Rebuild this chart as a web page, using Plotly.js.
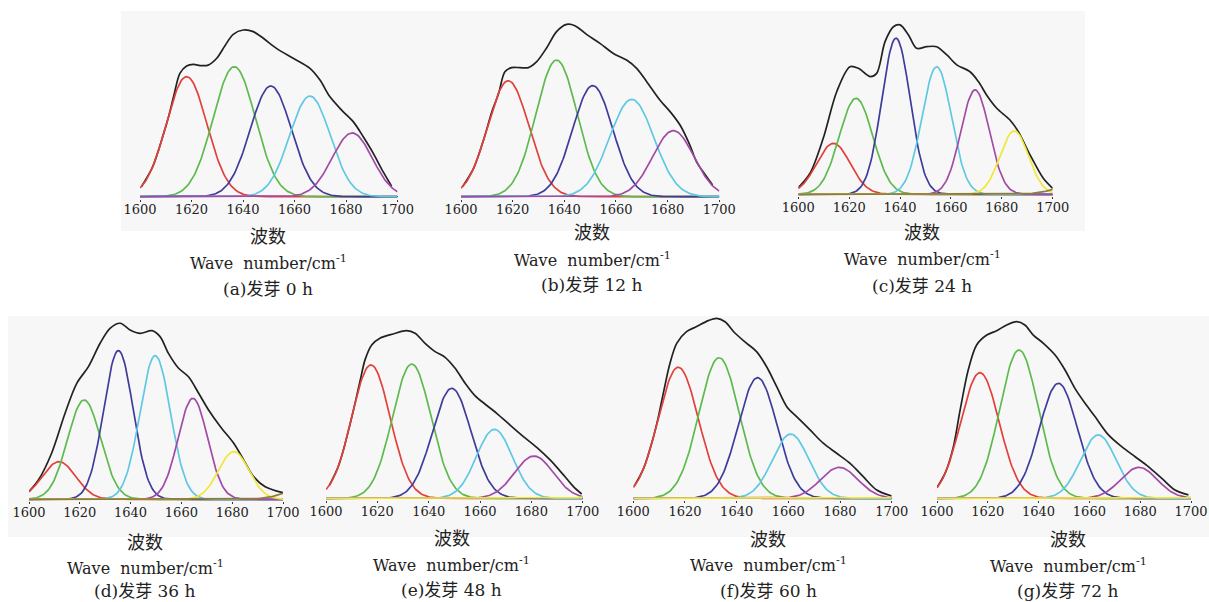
<!DOCTYPE html>
<html>
<head>
<meta charset="utf-8">
<script src="https://cdn.plot.ly/plotly-3.0.1.min.js"></script>
<style>html,body{margin:0;padding:0;background:#fff;}#chart{width:1209px;height:602px;}</style>
</head>
<body>
<div id="chart"></div>
<script>
// ---------- DATA ----------
// Wave number axis
const tickValues = [1600, 1620, 1640, 1660, 1680, 1700];
const tickLabels = ['1600', '1620', '1640', '1660', '1680', '1700'];
const xTitleCn = '波数';
const xTitleEn = 'Wave  number/cm<sup>-1</sup>';
const panelTitles = ['(a)发芽 0 h', '(b)发芽 12 h', '(c)发芽 24 h', '(d)发芽 36 h', '(e)发芽 48 h', '(f)发芽 60 h', '(g)发芽 72 h'];

// Fitted sub-peaks: centre (cm-1), height (relative intensity), width (sigma, cm-1)
const centersA = [1618.1, 1636.6, 1650.8, 1666.0, 1682.4];
const heightsA = [0.667, 0.722, 0.615, 0.559, 0.354];
const widthsA  = [7.9, 8.2, 8.0, 7.9, 7.8];
const colorsA  = ['red', 'green', 'blue', 'cyan', 'magenta'];

const centersB = [1618.3, 1637.0, 1651.0, 1666.1, 1682.2];
const heightsB = [0.644, 0.759, 0.617, 0.541, 0.367];
const widthsB  = [8.0, 8.0, 7.8, 8.6, 8.0];
const colorsB  = ['red', 'green', 'blue', 'cyan', 'magenta'];

const centersC = [1613.8, 1622.7, 1638.4, 1654.4, 1669.5, 1684.9, 1710];
const heightsC = [0.283, 0.533, 0.867, 0.709, 0.580, 0.352, 0.06];
const widthsC  = [6.6, 6.6, 5.6, 5.8, 5.6, 5.6, 8];
const colorsC  = ['red', 'green', 'blue', 'cyan', 'magenta', 'yellow', 'olive'];

const centersD = [1611.8, 1621.7, 1635.2, 1649.7, 1664.5, 1680.6, 1712];
const heightsD = [0.209, 0.552, 0.826, 0.798, 0.561, 0.265, 0.08];
const widthsD  = [6.6, 6.5, 5.8, 6.0, 5.8, 6.0, 9];
const colorsD  = ['red', 'green', 'blue', 'cyan', 'magenta', 'yellow', 'olive'];

const centersE = [1617.5, 1633.4, 1649.0, 1665.6, 1681.0, 1712];
const heightsE = [0.741, 0.746, 0.611, 0.383, 0.235, 0.03];
const widthsE  = [7.5, 7.5, 7.5, 7.0, 7.5, 7];
const colorsE  = ['red', 'green', 'blue', 'cyan', 'magenta', 'yellow'];

const centersF = [1617.4, 1633.2, 1648.1, 1660.9, 1679.7, 1712];
const heightsF = [0.728, 0.781, 0.670, 0.357, 0.172, 0.02];
const widthsF  = [7.8, 7.8, 7.5, 7.0, 7.2, 7];
const colorsF  = ['red', 'green', 'blue', 'cyan', 'magenta', 'yellow'];

const centersG = [1616.9, 1632.3, 1647.8, 1663.5, 1679.5, 1712];
const heightsG = [0.698, 0.824, 0.639, 0.352, 0.172, 0.02];
const widthsG  = [7.6, 7.6, 7.5, 7.0, 7.2, 7];
const colorsG  = ['red', 'green', 'blue', 'cyan', 'magenta', 'yellow'];

// Measured (envelope) spectra
const envXA = [1600.6,1605.0,1609.0,1611.2,1613.2,1615.5,1618.1,1620.7,1623.9,1626.5,1629.8,1633.0,1636.2,1640.1,1644.0,1647.9,1653.0,1659.5,1666.0,1669.9,1673.7,1678.3,1682.8,1686.7,1690.6,1694.4,1697.7];
const envYA = [0.057,0.169,0.343,0.450,0.565,0.685,0.726,0.735,0.728,0.731,0.769,0.839,0.902,0.926,0.917,0.880,0.824,0.769,0.713,0.648,0.556,0.481,0.417,0.333,0.241,0.139,0.059];

const envXB = [1600.6,1605.0,1609.0,1612.0,1614.5,1617.0,1619.6,1622.8,1626.1,1629.3,1633.2,1637.0,1640.9,1644.1,1648.6,1653.8,1659.0,1664.1,1668.0,1671.9,1677.0,1681.5,1684.8,1688.6,1691.2,1695.1,1697.4];
const envYB = [0.056,0.162,0.328,0.475,0.570,0.694,0.717,0.717,0.717,0.750,0.828,0.917,0.957,0.950,0.902,0.852,0.796,0.759,0.713,0.639,0.537,0.463,0.398,0.287,0.194,0.111,0.065];

const envXC = [1600.0,1604.6,1609.8,1615.1,1620.3,1623.6,1628.2,1630.8,1634.1,1637.4,1640.0,1643.3,1646.5,1650.5,1654.4,1658.4,1662.3,1667.5,1670.8,1674.0,1678.0,1683.2,1686.5,1691.1,1696.3,1700.0];
const envYC = [0.037,0.117,0.311,0.570,0.709,0.700,0.654,0.672,0.848,0.931,0.941,0.885,0.811,0.820,0.820,0.774,0.719,0.681,0.626,0.552,0.478,0.413,0.348,0.219,0.089,0.033];

const envXD = [1600.0,1603.7,1608.9,1614.2,1618.8,1623.4,1628.0,1631.9,1635.9,1639.8,1643.8,1648.4,1651.6,1654.9,1658.9,1662.8,1666.8,1670.7,1675.3,1680.6,1684.5,1688.4,1693.0,1700.0];
const envYD = [0.043,0.107,0.256,0.478,0.644,0.737,0.867,0.950,0.978,0.941,0.922,0.937,0.904,0.811,0.728,0.681,0.589,0.496,0.404,0.311,0.219,0.126,0.070,0.037];

const envXE = [1601.3,1605.0,1609.0,1611.5,1613.4,1615.2,1617.8,1621.0,1626.2,1631.4,1634.7,1638.6,1642.5,1646.4,1650.3,1654.2,1658.1,1661.9,1666.5,1671.7,1676.9,1682.1,1687.3,1692.5,1696.4,1699.6];
const envYE = [0.072,0.185,0.390,0.540,0.660,0.769,0.852,0.889,0.913,0.931,0.917,0.861,0.815,0.783,0.722,0.639,0.569,0.524,0.472,0.407,0.343,0.283,0.213,0.130,0.065,0.024];

const envXF = [1600.3,1604.0,1607.5,1609.5,1611.2,1614.2,1616.8,1620.6,1624.5,1629.0,1632.3,1635.5,1639.4,1643.9,1647.7,1651.6,1655.5,1659.4,1663.2,1668.4,1673.5,1678.7,1683.9,1689.0,1694.2,1700.0];
const envYF = [0.066,0.166,0.325,0.440,0.555,0.750,0.861,0.926,0.954,0.987,1.000,0.981,0.917,0.861,0.815,0.731,0.620,0.509,0.454,0.380,0.306,0.250,0.194,0.120,0.046,0.013];

const envXG = [1600.0,1603.5,1606.5,1609.1,1612.3,1615.6,1619.6,1623.5,1627.4,1631.4,1634.6,1637.9,1641.9,1646.5,1650.4,1654.3,1658.3,1662.2,1667.5,1672.7,1678.0,1683.2,1688.5,1693.7,1699.0];
const envYG = [0.059,0.150,0.290,0.490,0.713,0.852,0.907,0.931,0.963,0.981,0.963,0.907,0.861,0.796,0.713,0.611,0.528,0.454,0.352,0.287,0.231,0.176,0.111,0.046,0.019];

// ---------- STYLE / LAYOUT ----------
const COLORS = {red:'#e2403a', green:'#5cbb4c', blue:'#3f3c9c', cyan:'#5fc8e2', magenta:'#a24aa6', yellow:'#f2e63a', olive:'#8c7d3c'};
const W = 1209, H = 602, UNIT = 180; // px per unit of intensity
const panels = [
  {c:centersA, h:heightsA, w:widthsA, col:colorsA, ex:envXA, ey:envYA, x0:140,   x1:397.5,  base:196.7, tx:268,  ty:[237,262,289]},
  {c:centersB, h:heightsB, w:widthsB, col:colorsB, ex:envXB, ey:envYB, x0:461,   x1:719.3,  base:196.7, tx:592,  ty:[233,259,285]},
  {c:centersC, h:heightsC, w:widthsC, col:colorsC, ex:envXC, ey:envYC, x0:798.3, x1:1052.7, base:194.3, tx:922,  ty:[232,258,286]},
  {c:centersD, h:heightsD, w:widthsD, col:colorsD, ex:envXD, ey:envYD, x0:29,    x1:283,    base:499.3, tx:145,  ty:[542,567,591]},
  {c:centersE, h:heightsE, w:widthsE, col:colorsE, ex:envXE, ey:envYE, x0:326,   x1:582.7,  base:498.3, tx:452,  ty:[538,564,590]},
  {c:centersF, h:heightsF, w:widthsF, col:colorsF, ex:envXF, ey:envYF, x0:633.3, x1:891.7,  base:498.3, tx:768,  ty:[539,564,591]},
  {c:centersG, h:heightsG, w:widthsG, col:colorsG, ex:envXG, ey:envYG, x0:937,   x1:1191,   base:498.3, tx:1068, ty:[539,565,591]}
];
const Y_MIN = -0.01, Y_MAX = 1.05;
const serif = 'DejaVu Serif, Noto Sans CJK SC, serif';
const textSizes = [18, 16, 17];

const grid = [];
for (let x = 1600; x <= 1700.001; x += 0.5) grid.push(x);

const traces = [];
const layout = {
  width: W, height: H,
  margin: {l:0, r:0, t:0, b:0},
  paper_bgcolor: '#ffffff',
  plot_bgcolor: 'rgba(0,0,0,0)',
  showlegend: false,
  font: {family: serif},
  shapes: [
    {type:'rect', xref:'paper', yref:'paper', x0:121/W, x1:1085/W, y0:1-231/H, y1:1-11/H, fillcolor:'#f7f7f7', line:{width:0}, layer:'below'},
    {type:'rect', xref:'paper', yref:'paper', x0:8/W, x1:1, y0:1-537/H, y1:1-316/H, fillcolor:'#f7f7f7', line:{width:0}, layer:'below'}
  ],
  annotations: []
};

panels.forEach((p, i) => {
  const sfx = i === 0 ? '' : String(i + 1);
  const xa = 'x' + sfx, ya = 'y' + sfx;
  // envelope
  traces.push({x:p.ex, y:p.ey, type:'scatter', mode:'lines', xaxis:xa, yaxis:ya, hoverinfo:'skip',
               line:{color:'#222222', width:1.7, shape:'spline', smoothing:0.9}});
  // fitted component peaks
  p.c.forEach((c, k) => {
    const ys = grid.map(x => p.h[k] * Math.exp(-((x - c) * (x - c)) / (2 * p.w[k] * p.w[k])));
    traces.push({x:grid, y:ys, type:'scatter', mode:'lines', xaxis:xa, yaxis:ya, hoverinfo:'skip',
                 line:{color:COLORS[p.col[k]], width:1.7}});
  });
  const yBottom = p.base + (-Y_MIN) * UNIT;
  const yTop = p.base - Y_MAX * UNIT;
  layout['xaxis' + sfx] = {
    domain:[p.x0 / W, p.x1 / W], range:[1600, 1700], anchor:ya,
    tickvals:tickValues, ticktext:tickLabels, ticks:'outside', ticklen:2, tickcolor:'#333',
    ticklabelstandoff:-3,
    showgrid:false, zeroline:false, showline:false,
    tickfont:{family:serif, size:13, color:'#222'}, fixedrange:true
  };
  layout['yaxis' + sfx] = {
    domain:[1 - yBottom / H, 1 - yTop / H], range:[Y_MIN, Y_MAX], anchor:xa,
    showticklabels:false, ticks:'', showgrid:false, showline:false,
    zeroline:true, zerolinecolor:'#333', zerolinewidth:1.5, fixedrange:true
  };
  const texts = [xTitleCn, xTitleEn, panelTitles[i]];
  texts.forEach((t, k) => {
    layout.annotations.push({xref:'paper', yref:'paper', x:p.tx / W, y:1 - p.ty[k] / H,
      xanchor:'center', yanchor:'middle', showarrow:false, text:t,
      font:{family:serif, size:textSizes[k], color:'#222'}});
  });
});

Plotly.newPlot('chart', traces, layout, {staticPlot:true, displayModeBar:false});
</script>
</body>
</html>
